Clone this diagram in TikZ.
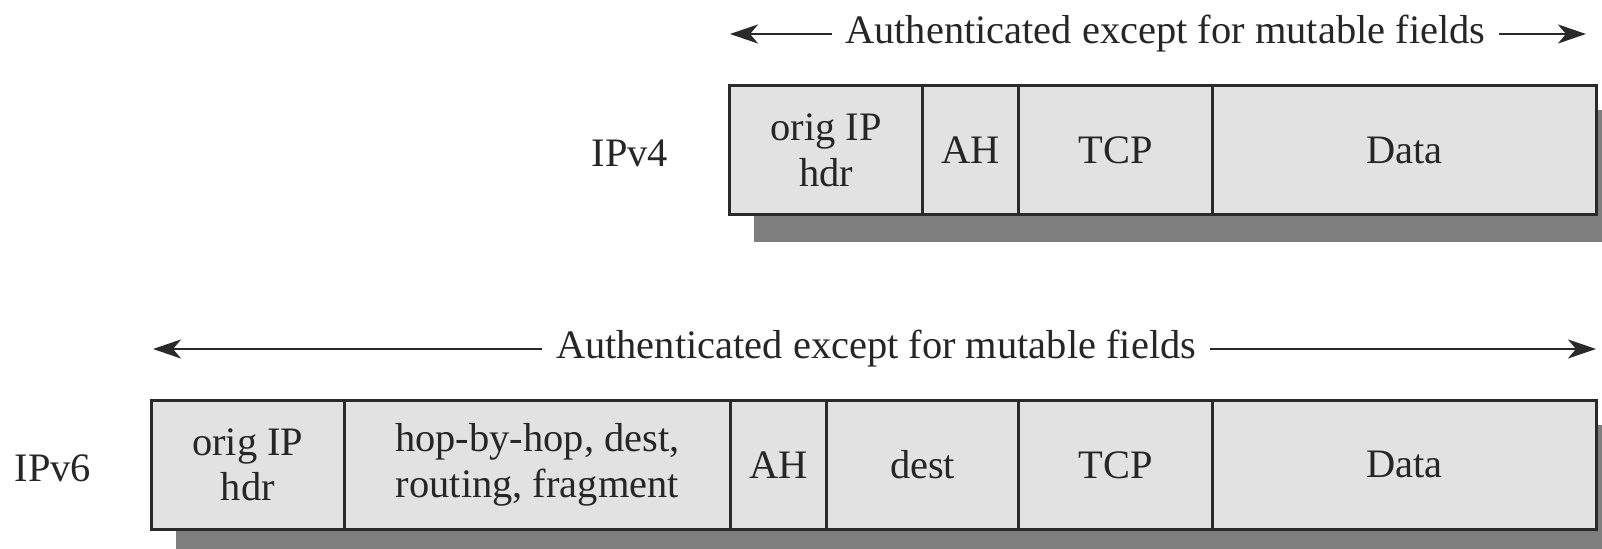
\documentclass[tikz,border=0pt]{standalone}
\usepackage{fontspec}
\setmainfont{Liberation Serif}
\usetikzlibrary{arrows.meta,calc,backgrounds}
\definecolor{boxfill}{HTML}{E2E2E2}
\definecolor{shadowc}{HTML}{7E7E7E}
\definecolor{linec}{HTML}{2A2A2A}
\begin{document}
\begin{tikzpicture}[x=0.01cm,y=-0.01cm,
  font=\fontsize{11.5}{13}\selectfont,
  field/.style={draw=linec,fill=boxfill,line width=0.8pt,minimum height=1.288cm,inner sep=0pt,align=center,text=black!85},
  lbl/.style={inner sep=0pt,text=black!85},
  ttl/.style={inner xsep=0.13cm,inner ysep=0pt,text=black!85},
  shadowbox/.style={fill=shadowc},
  arr/.style={draw=linec,line width=0.8pt,-{Stealth[length=0.28cm,width=0.19cm,inset=0.08cm]}}]
\clip (0,0) rectangle (1602,549);
\useasboundingbox (0,0) rectangle (1602,549);
% IPv4 row
\node[field,minimum width=1.931cm] (a1) at (826.05,150.2) {orig IP\\hdr};
\node[field,minimum width=0.960cm] (a2) at (970.6,150.2) {AH};
\node[field,minimum width=1.942cm] (a3) at (1115.7,150.2) {TCP};
\node[field,minimum width=3.832cm] (a4) at (1404.4,150.2) {Data};
% IPv6 row
\node[field,minimum width=1.931cm] (b1) at (247.75,464.85) {orig IP\\hdr};
\node[field,minimum width=3.862cm] (b2) at (537.4,464.85) {hop-by-hop, dest,\\routing, fragment};
\node[field,minimum width=0.961cm] (b3) at (778.55,464.85) {AH};
\node[field,minimum width=1.920cm] (b4) at (922.6,464.85) {dest};
\node[field,minimum width=1.942cm] (b5) at (1115.7,464.85) {TCP};
\node[field,minimum width=3.832cm] (b6) at (1404.4,464.85) {Data};
% shadows
\begin{scope}[on background layer]
\fill[shadowbox] ($(a1.north west)+(26,26)$) rectangle ($(a4.south east)+(26,26)$);
\fill[shadowbox] ($(b1.north west)+(26,26)$) rectangle ($(b6.south east)+(26,26)$);
\end{scope}
% labels
\node[lbl] (l4) at (630,153) {IPv4};
\node[lbl] (l6) at (53,468) {IPv6};
% titles and arrows
\node[ttl] (t4) at (1165.3,34) {Authenticated except for mutable fields};
\coordinate (t4l) at (730,34);
\coordinate (t4r) at (1586,34);
\draw[arr] (t4.west) -- (t4l);
\draw[arr] (t4.east) -- (t4r);
\node[ttl] (t6) at (876.1,349) {Authenticated except for mutable fields};
\coordinate (t6l) at (153,349);
\coordinate (t6r) at (1596,349);
\draw[arr] (t6.west) -- (t6l);
\draw[arr] (t6.east) -- (t6r);
\end{tikzpicture}
\end{document}
